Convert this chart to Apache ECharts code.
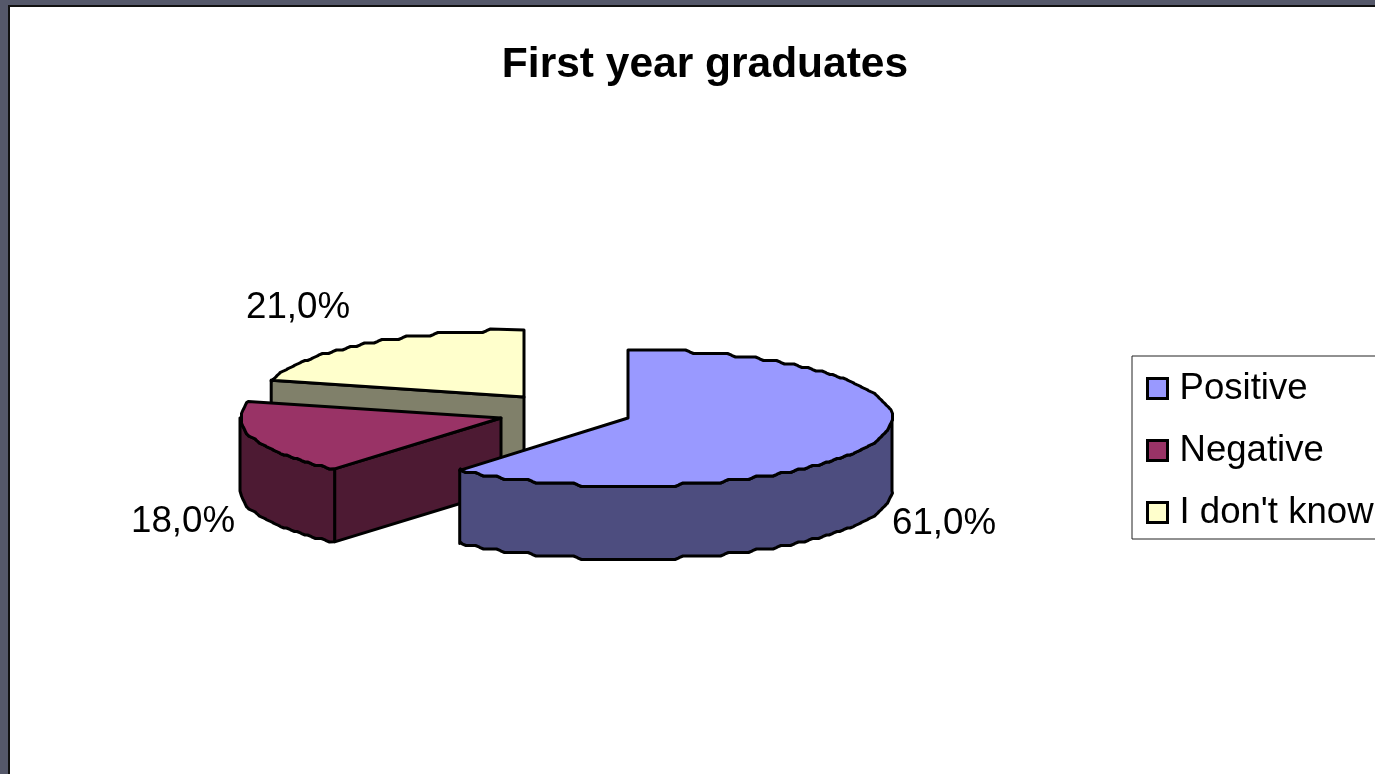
<!DOCTYPE html>
<html><head><meta charset="utf-8">
<style>html,body{margin:0;padding:0;background:#fff;overflow:hidden}#c{width:1375px;height:774px}</style>
<script src="https://cdn.jsdelivr.net/npm/echarts@6/dist/echarts.min.js"></script>
</head><body><div id="c"></div>
<script>
const titleText = 'First year graduates';
const categories = ['Positive', 'Negative', "I don't know"];
const shares = [61, 18, 21];
const topColors = ['#9999ff', '#993366', '#ffffcc'];
const sideColors = ['#4d4d7f', '#4d1a33', '#80806a'];

const FONT = '"Liberation Sans", Arial, sans-serif';
const apexes = [[628, 418], [501, 418], [524, 397]];
const radii = [[264, 68], [261, 66], [261, 67]];
const DEPTH = 73, GRID = 3.5;
const labelAnchors = [
  {x: 944, y: 524}, {x: 183, y: 522}, {x: 298, y: 308}
];
const total = shares.reduce((a, b) => a + b, 0);
const rad = d => d * Math.PI / 180;

// elliptical arc, clockwise from 12 o'clock, with the reference's low-res stair edge
function arc(c, r, t0, t1) {
  const q = v => Math.round(v / GRID) * GRID;
  const n = Math.max(2, Math.ceil(Math.abs(t1 - t0) * 4));
  const stair = [];
  for (let i = 0; i <= n; i++) {
    const t = rad(t0 + (t1 - t0) * i / n);
    const p = [q(c[0] + r[0] * Math.sin(t)), q(c[1] - r[1] * Math.cos(t))];
    const l = stair[stair.length - 1];
    if (!l) { stair.push(p); continue; }
    if (l[0] === p[0] && l[1] === p[1]) continue;
    if (l[0] !== p[0] && l[1] !== p[1]) stair.push([p[0], l[1]]);
    stair.push(p);
  }
  // corners only: drop points lying on a straight run
  const corners = stair.filter((p, i) => {
    if (i === 0 || i === stair.length - 1) return true;
    const a = stair[i - 1], b = stair[i + 1];
    return !((a[0] === p[0] && b[0] === p[0]) || (a[1] === p[1] && b[1] === p[1]));
  });
  const out = [];
  corners.forEach((p, i) => {
    if (i === 0 || i === corners.length - 1) { out.push(p); return; }
    const a = corners[i - 1], b = corners[i + 1];
    const cut = (u, v) => {
      const d = Math.hypot(u[0] - v[0], u[1] - v[1]) || 1, k = Math.min(4, d * 0.48) / d;
      return [v[0] + (u[0] - v[0]) * k, v[1] + (u[1] - v[1]) * k];
    };
    out.push(cut(a, p), cut(b, p));
  });
  const at = t => [c[0] + r[0] * Math.sin(rad(t)), c[1] - r[1] * Math.cos(rad(t))];
  out[0] = at(t0); out[out.length - 1] = at(t1);
  return out;
}
const shifted = pts => pts.map(p => [p[0], p[1] + DEPTH]);
const stroke = {stroke: '#000', lineWidth: 3, lineJoin: 'round'};
const poly = (points, fill) => ({type: 'polygon', shape: {points}, style: Object.assign({fill}, stroke)});

function makeRender(idx) {
  return function (params, api) {
    const value = api.value(0);
    const before = shares.slice(0, idx).reduce((a, b) => a + b, 0);
    const t0 = before / total * 360, t1 = t0 + value / total * 360;
    const c = apexes[idx], r = radii[idx];
    const edge = t => [c[0] + r[0] * Math.sin(rad(t)), c[1] - r[1] * Math.cos(rad(t))];
    const children = [];
    // radial cut faces
    [[t0, Math.sin(rad(t0)) < -1e-6], [t1, Math.sin(rad(t1)) > 1e-6]].forEach(([t, vis]) => {
      if (!vis) return;
      const e = edge(t);
      children.push(poly([c, e, [e[0], e[1] + DEPTH], [c[0], c[1] + DEPTH]], sideColors[idx]));
    });
    // front rim
    const a = Math.max(t0, 90), b = Math.min(t1, 270);
    if (b > a) {
      const top = arc(c, r, a, b);
      children.push(poly(top.concat(shifted(top).reverse()), sideColors[idx]));
    }
    // top
    children.push(poly([c].concat(arc(c, r, t0, t1)), topColors[idx]));
    // value label
    children.push({type: 'text', style: {
      text: value.toFixed(1).replace('.', ',') + '%',
      x: labelAnchors[idx].x, y: labelAnchors[idx].y,
      fill: '#000', font: '36.7px ' + FONT, align: 'center', verticalAlign: 'middle'
    }});
    return {type: 'group', children};
  };
}

const chart = echarts.init(document.getElementById('c'), null, {renderer: 'canvas'});
chart.setOption({
  animation: false,
  backgroundColor: '#ffffff',
  title: {
    text: titleText, left: 700, top: 39, textAlign: 'center',
    textStyle: {fontFamily: FONT, fontSize: 42.5, fontWeight: 'bold', color: '#000'}
  },
  legend: {
    data: categories, orient: 'vertical', left: 1132, top: 356, align: 'left',
    padding: [14, 60, 8, 14], itemGap: 25, itemWidth: 20, itemHeight: 20, icon: 'rect',
    borderColor: '#222', borderWidth: 1, backgroundColor: '#fff', selectedMode: false,
    itemStyle: {borderColor: '#000', borderWidth: 3},
    textStyle: {fontFamily: FONT, fontSize: 36.6, color: '#000', padding: [0, 0, 0, 7]}
  },
  graphic: [
    {type: 'rect', z: -10, shape: {x: 0, y: 0, width: 1375, height: 5}, style: {fill: '#55586a'}},
    {type: 'rect', z: -10, shape: {x: 0, y: 0, width: 8, height: 774}, style: {fill: '#55586a'}},
    {type: 'rect', z: -9, shape: {x: 8, y: 5, width: 1367, height: 2}, style: {fill: '#111'}},
    {type: 'rect', z: -9, shape: {x: 8, y: 5, width: 2, height: 769}, style: {fill: '#111'}}
  ],
  series: categories.map((name, i) => ({
    type: 'custom', name, coordinateSystem: 'none', z: 3 - i + 2,
    itemStyle: {color: topColors[i]},
    renderItem: makeRender(i), data: [[shares[i]]], silent: true
  }))
});
</script></body></html>
